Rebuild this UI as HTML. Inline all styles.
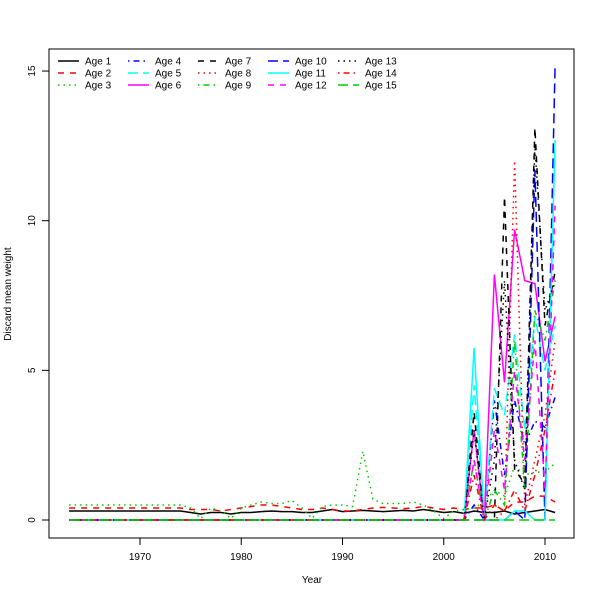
<!DOCTYPE html>
<html><head><meta charset="utf-8"><style>
body{margin:0;background:#fff}
svg{font-family:"Liberation Sans","DejaVu Sans",sans-serif}
</style></head><body>
<svg id="chart" width="600" height="600" xmlns="http://www.w3.org/2000/svg">
<rect width="600" height="600" fill="#fff"/>
<g id="plot"></g>
<rect x="49" y="49" width="525" height="489" fill="none" stroke="#000" stroke-width="1"/>
<g id="axes" font-size="10"></g>
<text x="312" y="583" font-size="10" text-anchor="middle">Year</text>
<text transform="translate(11,294) rotate(-90)" font-size="10" text-anchor="middle">Discard mean weight</text>
<g id="legend" font-size="10"></g>
</svg>
<script>
const years=[1963,1964,1965,1966,1967,1968,1969,1970,1971,1972,1973,1974,1975,1976,1977,1978,1979,1980,1981,1982,1983,1984,1985,1986,1987,1988,1989,1990,1991,1992,1993,1994,1995,1996,1997,1998,1999,2000,2001,2002,2003,2004,2005,2006,2007,2008,2009,2010,2011];
const seriesNames=["Age 1","Age 2","Age 3","Age 4","Age 5","Age 6","Age 7","Age 8","Age 9","Age 10","Age 11","Age 12","Age 13","Age 14","Age 15"];
const age1=[0.3,0.3,0.3,0.3,0.3,0.3,0.3,0.3,0.3,0.3,0.3,0.3,0.25,0.2,0.25,0.25,0.2,0.25,0.25,0.28,0.3,0.28,0.28,0.25,0.25,0.3,0.35,0.28,0.3,0.32,0.3,0.28,0.3,0.32,0.3,0.35,0.3,0.25,0.28,0.22,0.3,0.25,0.25,0.3,0.2,0.25,0.3,0.35,0.25];
const age2=[0.4,0.4,0.4,0.4,0.4,0.4,0.4,0.4,0.4,0.4,0.4,0.4,0.35,0.35,0.35,0.3,0.35,0.4,0.45,0.5,0.5,0.45,0.4,0.35,0.35,0.4,0.35,0.3,0.3,0.35,0.4,0.42,0.4,0.38,0.4,0.45,0.4,0.35,0.4,0.35,0.4,0.4,0.5,0.3,0.6,0.6,0.8,0.8,0.6];
const age3=[0.5,0.5,0.5,0.5,0.5,0.5,0.5,0.5,0.5,0.5,0.5,0.5,0.4,0.05,0.4,0.3,0.05,0.4,0.5,0.6,0.55,0.55,0.65,0.4,0.05,0.45,0.5,0.5,0.45,2.3,0.7,0.55,0.55,0.55,0.6,0.5,0.3,0.05,0.3,0.35,0.4,0.6,1.0,0.8,1.8,1.5,1.6,1.6,1.9];
const age4=[0,0,0,0,0,0,0,0,0,0,0,0,0,0,0,0,0,0,0,0,0,0,0,0,0,0,0,0,0,0,0,0,0,0,0,0,0,0,0,0,0.5,0,4,1.5,4,2.5,3.3,3.1,4.1];
const age5=[0,0,0,0,0,0,0,0,0,0,0,0,0,0,0,0,0,0,0,0,0,0,0,0,0,0,0,0,0,0,0,0,0,0,0,0,0,0,0,0,4.5,0,4.4,3.5,6.2,3,6.8,5,6.5];
const age6=[0,0,0,0,0,0,0,0,0,0,0,0,0,0,0,0,0,0,0,0,0,0,0,0,0,0,0,0,0,0,0,0,0,0,0,0,0,0,0,0,3,0,8.2,4.6,9.7,8,7.9,5.3,6.8];
const age7=[0,0,0,0,0,0,0,0,0,0,0,0,0,0,0,0,0,0,0,0,0,0,0,0,0,0,0,0,0,0,0,0,0,0,0,0,0,0,0,0,3.6,0,0,10.8,1.7,1.2,13.1,6.5,8.3];
const age8=[0,0,0,0,0,0,0,0,0,0,0,0,0,0,0,0,0,0,0,0,0,0,0,0,0,0,0,0,0,0,0,0,0,0,0,0,0,0,0,0,3,0,0,0.3,12,0.5,2,3.5,6];
const age9=[0,0,0,0,0,0,0,0,0,0,0,0,0,0,0,0,0,0,0,0,0,0,0,0,0,0,0,0,0,0,0,0,0,0,0,0,0,0,0,0,2,0,1,0.5,6,1,7,6,8];
const age10=[0,0,0,0,0,0,0,0,0,0,0,0,0,0,0,0,0,0,0,0,0,0,0,0,0,0,0,0,0,0,0,0,0,0,0,0,0,0,0,0,0,0,0,0,0.3,0,11.7,0,15.2];
const age11=[0,0,0,0,0,0,0,0,0,0,0,0,0,0,0,0,0,0,0,0,0,0,0,0,0,0,0,0,0,0,0,0,0,0,0,0,0,0,0,0,5.75,0,0,0,0.3,0.3,0,0,12.7];
const age12=[0,0,0,0,0,0,0,0,0,0,0,0,0,0,0,0,0,0,0,0,0,0,0,0,0,0,0,0,0,0,0,0,0,0,0,0,0,0,0,0,2,0,3,1,5,2,6,1,10.5];
const age13=[0,0,0,0,0,0,0,0,0,0,0,0,0,0,0,0,0,0,0,0,0,0,0,0,0,0,0,0,0,0,0,0,0,0,0,0,0,0,0,0,3,0,2,8,2,1,12.5,7,8];
const age14=[0,0,0,0,0,0,0,0,0,0,0,0,0,0,0,0,0,0,0,0,0,0,0,0,0,0,0,0,0,0,0,0,0,0,0,0,0,0,0,0,1.5,0,0.5,0.3,1,0.3,1.5,3,5];
const age15=[0,0,0,0,0,0,0,0,0,0,0,0,0,0,0,0,0,0,0,0,0,0,0,0,0,0,0,0,0,0,0,0,0,0,0,0,0,0,0,0,0,0,0,0,0,0,0,0,0];
const xTicks=[1970,1980,1990,2000,2010];
const yTicks=[0,5,10,15];
const allSeries=[age1,age2,age3,age4,age5,age6,age7,age8,age9,age10,age11,age12,age13,age14,age15];
const colors=["#000","#ff0000","#00cd00","#0000ff","#00ffff","#ff00ff"];
const dashes=["","6,6","1.5,4","1.5,4,6,4","10,5"];
const NS="http://www.w3.org/2000/svg";
const xS=y=>140+(y-1970)*10.125;
const yS=v=>520-v*29.93;
const plot=document.getElementById('plot');
allSeries.forEach((s,i)=>{
  const p=document.createElementNS(NS,'polyline');
  
  
  p.setAttribute('points',s.map((v,j)=>xS(years[j]).toFixed(1)+','+yS(v).toFixed(1)).join(' '));
  p.setAttribute('fill','none');
  p.setAttribute('stroke',colors[i%6]);
  p.setAttribute('stroke-width','1.5');
  if(dashes[i%5]) p.setAttribute('stroke-dasharray',dashes[i%5]);
  plot.appendChild(p);
});
const axes=document.getElementById('axes');
xTicks.forEach(t=>{
  const l=document.createElementNS(NS,'line');
  
  
  l.setAttribute('x1',xS(t));l.setAttribute('x2',xS(t));l.setAttribute('y1',538);l.setAttribute('y2',545);l.setAttribute('stroke','#000');
  axes.appendChild(l);
  const tx=document.createElementNS(NS,'text');
  
  
  tx.setAttribute('x',xS(t));tx.setAttribute('y',560);tx.setAttribute('text-anchor','middle');tx.textContent=t;
  axes.appendChild(tx);
});
yTicks.forEach(t=>{
  const l=document.createElementNS(NS,'line');
  
  
  l.setAttribute('x1',42);l.setAttribute('x2',49);l.setAttribute('y1',yS(t));l.setAttribute('y2',yS(t));l.setAttribute('stroke','#000');
  axes.appendChild(l);
  const tx=document.createElementNS(NS,'text');
  
  
  tx.setAttribute('transform','translate(35,'+yS(t)+') rotate(-90)');tx.setAttribute('text-anchor','middle');tx.textContent=t;
  axes.appendChild(tx);
});
const leg=document.getElementById('legend');
seriesNames.forEach((n,i)=>{
  const col=Math.floor(i/3),row=i%3;
  const x0=58+col*70,y0=61+row*12;
  const l=document.createElementNS(NS,'line');
  
  
  l.setAttribute('x1',x0);l.setAttribute('x2',x0+21);l.setAttribute('y1',y0);l.setAttribute('y2',y0);
  l.setAttribute('stroke',colors[i%6]);l.setAttribute('stroke-width','1.5');
  if(dashes[i%5]) l.setAttribute('stroke-dasharray',dashes[i%5]);
  leg.appendChild(l);
  const tx=document.createElementNS(NS,'text');
  
  
  tx.setAttribute('x',x0+27);tx.setAttribute('y',y0+3.5);tx.textContent=n;
  leg.appendChild(tx);
});
</script>
</body></html>
